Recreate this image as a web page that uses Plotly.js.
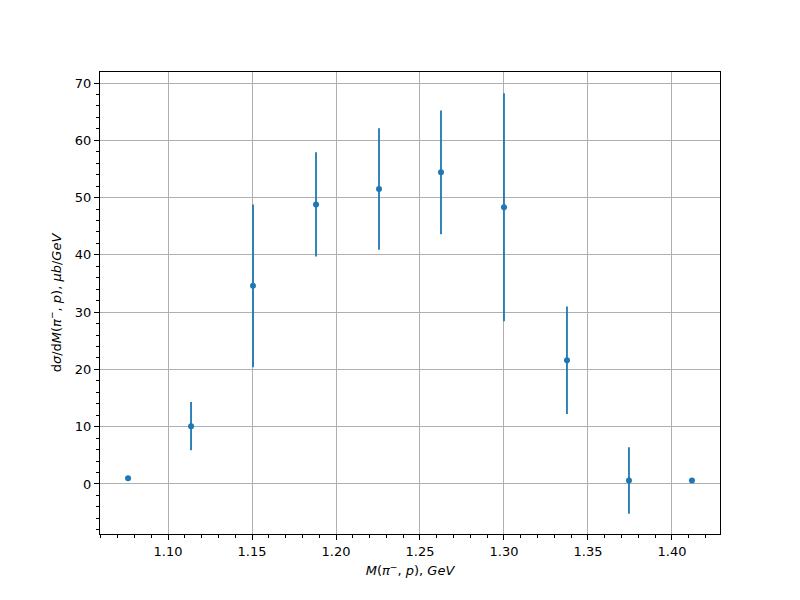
<!DOCTYPE html>
<html>
<head>
<meta charset="utf-8">
<script src="https://cdn.plot.ly/plotly-3.0.1.min.js"></script>
<style>body{margin:0;padding:0;background:#fff;}#chart{width:800px;height:600px;}</style>
</head>
<body>
<div id="chart"></div>
<script>
const massGeV = [1.0762, 1.1137, 1.1506, 1.1881, 1.2256, 1.2625, 1.3000, 1.3375, 1.3744, 1.4119];
const dsigma = [1.0, 10.1, 34.6, 48.8, 51.5, 54.4, 48.3, 21.6, 0.6, 0.6];
const dsigmaErr = [0, 4.2, 14.2, 9.1, 10.6, 10.8, 19.9, 9.4, 5.8, 0];

const trace = {
  x: massGeV,
  y: dsigma,
  type: 'scatter',
  mode: 'markers',
  marker: {color: '#1f77b4', size: 6},
  error_y: {type: 'data', array: dsigmaErr, visible: true, color: '#1f77b4', thickness: 1.8, width: 0}
};

const fontBase = {family: 'DejaVu Sans', size: 13, color: '#000'};

const layout = {
  width: 800, height: 600,
  margin: {l: 100, r: 80, t: 72, b: 66, pad: 0},
  paper_bgcolor: '#fff', plot_bgcolor: '#fff',
  showlegend: false,
  font: fontBase,
  xaxis: {
    range: [1.0595, 1.4286],
    tick0: 1.1, dtick: 0.05, tickformat: '.2f',
    ticks: 'outside', ticklen: 5, tickwidth: 1, tickcolor: '#000',
    minor: {dtick: 0.01, ticks: 'outside', ticklen: 3, tickwidth: 1, tickcolor: '#000', showgrid: false},
    showgrid: true, gridcolor: '#b0b0b0', gridwidth: 1,
    showline: true, linecolor: '#000', linewidth: 1, mirror: true,
    zeroline: false,
    tickfont: fontBase,
    title: {text: '<i>M</i>(<i>π</i><sup>−</sup>, <i>p</i>), <i>GeV</i>', font: fontBase, standoff: 8}
  },
  yaxis: {
    range: [-8.73, 71.92],
    tick0: 0, dtick: 10,
    ticks: 'outside', ticklen: 5, tickwidth: 1, tickcolor: '#000',
    minor: {dtick: 2, ticks: 'outside', ticklen: 3, tickwidth: 1, tickcolor: '#000', showgrid: false},
    showgrid: true, gridcolor: '#b0b0b0', gridwidth: 1,
    showline: true, linecolor: '#000', linewidth: 1, mirror: true,
    zeroline: false,
    tickfont: fontBase,
    title: {text: 'd<i>σ</i>/d<i>M</i>(<i>π</i><sup>−</sup>, <i>p</i>), <i>μb</i>/<i>GeV</i>', font: fontBase, standoff: 10}
  }
};

Plotly.newPlot('chart', [trace], layout, {displayModeBar: false, staticPlot: true});
</script>
</body>
</html>
